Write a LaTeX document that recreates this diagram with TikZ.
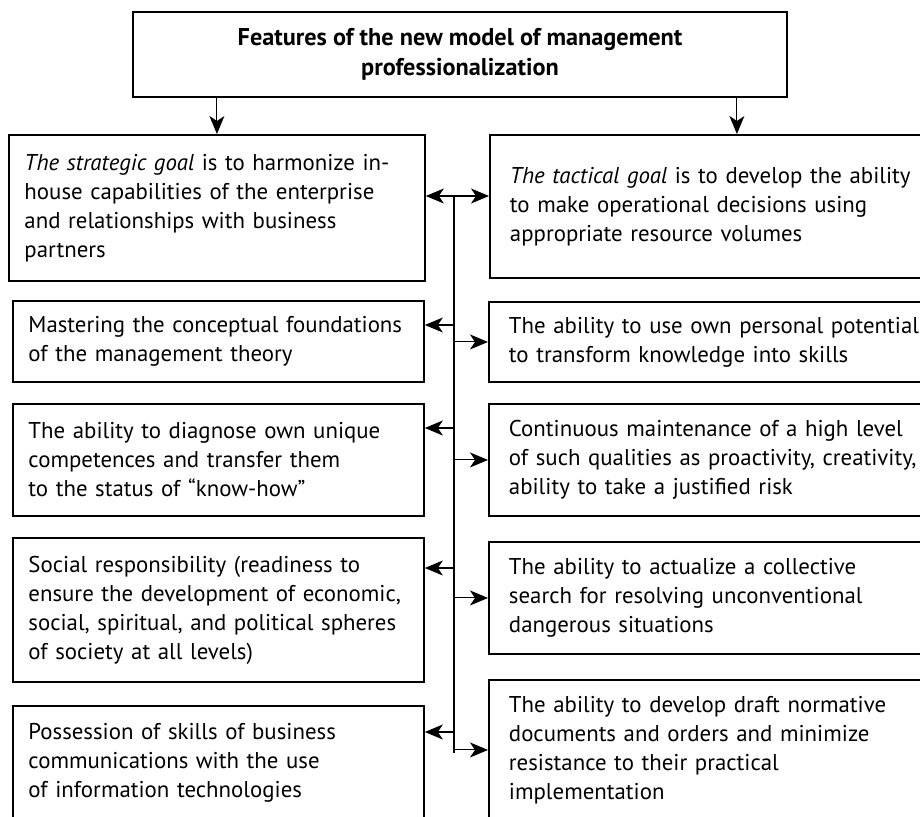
\documentclass[tikz,border=0pt]{standalone}
\usepackage{fontspec}
\setmainfont{PT Sans}
\usepackage{tikz}
\usetikzlibrary{arrows.meta}

\begin{document}
\begin{tikzpicture}[x=0.02cm,y=-0.02cm,
	box/.style={draw,line width=1.1pt,rectangle,anchor=north west,align=left,
		inner ysep=0pt,font=\fontsize{13}{16.5}\selectfont},
	lbox/.style={box,text width=7.6cm,inner xsep=0.31cm},
	rbox/.style={box,text width=9.08cm,inner xsep=0.4cm},
	arr/.style={line width=0.6pt,-{Stealth[length=0.36cm,width=0.3cm,inset=0.1cm]}}
	]
	\useasboundingbox (0,0) rectangle (920,816);
	\clip (0,0) rectangle (920,816);
	% heading
	\node[draw,line width=1.1pt,minimum width=13.08cm,minimum height=1.7cm,
	align=center,font=\fontsize{13.8}{16.8}\selectfont\bfseries] (head) at (460,54.5)
	{Features of the new model of management\\professionalization};
	% goals
	\node[lbox,text width=7.7cm,minimum height=2.92cm] (lgoal) at (8,134)
	{\textit{The strategic goal} is to harmonize in-\\house capabilities of the enterprise\\and relationships with business\\partners};
	\node[rbox,minimum height=2.86cm] (rgoal) at (489,134)
	{\textit{The tactical goal} is to develop the ability\\to make operational decisions using\\appropriate resource volumes};
	% left column
	\node[lbox,minimum height=1.62cm] (l1) at (12,300)
	{Mastering the conceptual foundations\\of the management theory};
	\node[lbox,minimum height=2.24cm] (l2) at (12,403)
	{The ability to diagnose own unique\\competences and transfer them\\to the status of “know-how”};
	\node[lbox,minimum height=2.88cm] (l3) at (12,537)
	{Social responsibility (readiness to\\ensure the development of economic,\\social, spiritual, and political spheres\\of society at all levels)};
	\node[lbox,minimum height=2.28cm] (l4) at (12,705)
	{Possession of skills of business\\communications with the use\\of information technologies};
	% right column
	\node[rbox,minimum height=1.6cm] (r1) at (488,301)
	{The ability to use own personal potential\\to transform knowledge into skills};
	\node[rbox,minimum height=2.24cm] (r2) at (488,403)
	{Continuous maintenance of a high level\\of such qualities as proactivity, creativity,\\ability to take a justified risk};
	\node[rbox,minimum height=2.24cm] (r3) at (488,541)
	{The ability to actualize a collective\\search for resolving unconventional\\dangerous situations};
	\node[rbox,minimum height=2.8cm] (r4) at (488,679)
	{The ability to develop draft normative\\documents and orders and minimize\\resistance to their practical\\implementation};
	% connectors
	\draw[arr] (lgoal.north |- head.south) -- (lgoal.north);
	\draw[arr] (rgoal.north |- head.south) -- (rgoal.north);
	\coordinate (top) at (454,196);
	\coordinate (bot) at (454,753);
	\draw[line width=0.6pt] (top) -- (bot);
	\draw[arr] (top) -- (top -| lgoal.east);
	\draw[arr] (top) -- (top -| rgoal.west);
	\foreach \n/\y in {l1/325,l2/428,l3/568,l4/732}
	\draw[arr] (454,\y) -- (\n.east |- 0,\y);
	\foreach \n in {r1,r2,r3,r4}
	\draw[arr] (\n.west -| top) -- (\n.west);
\end{tikzpicture}
\end{document}
